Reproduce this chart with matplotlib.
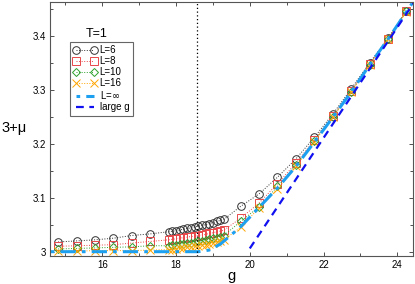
import numpy as np
import matplotlib
matplotlib.use("Agg")
import matplotlib.pyplot as plt

plt.rcParams['font.family'] = ['Liberation Sans', 'DejaVu Sans']

# g grid: sparse below, dense around the transition, sparse above
g_low = [14.8, 15.3, 15.8, 16.3, 16.8, 17.3]
g_mid = [17.8, 17.9, 18.0, 18.1, 18.2, 18.3, 18.4, 18.5, 18.6, 18.7, 18.8, 18.9, 19.0, 19.1, 19.2, 19.3]
g_high = [19.75, 20.25, 20.75, 21.25, 21.75, 22.25, 22.75, 23.25, 23.75, 24.25]
g_all = g_low + g_mid + g_high

mu_L6 = [3.018, 3.020, 3.022, 3.025, 3.030, 3.033,
         3.037, 3.038, 3.039, 3.040, 3.042, 3.043, 3.044, 3.046, 3.047, 3.049, 3.050, 3.052, 3.054, 3.056, 3.058, 3.060,
         3.084, 3.107, 3.138, 3.172, 3.212, 3.255, 3.302, 3.350, 3.396, 3.447]
mu_L8 = [3.010, 3.011, 3.012, 3.013, 3.016, 3.019,
         3.022, 3.023, 3.024, 3.025, 3.026, 3.027, 3.028, 3.029, 3.030, 3.031, 3.032, 3.034, 3.035, 3.037, 3.038, 3.040,
         3.062, 3.090, 3.126, 3.164, 3.207, 3.251, 3.298, 3.348, 3.395, 3.446]
mu_L10 = [3.005, 3.006, 3.007, 3.008, 3.009, 3.011,
          3.011, 3.012, 3.013, 3.014, 3.015, 3.016, 3.017, 3.018, 3.019, 3.020, 3.022, 3.023, 3.025, 3.026, 3.028, 3.030,
          3.056, 3.083, 3.121, 3.160, 3.205, 3.250, 3.297, 3.347, 3.394, 3.446]
mu_L16 = [3.001, 3.001, 3.002, 3.002, 3.002, 3.003,
          3.004, 3.004, 3.005, 3.006, 3.007, 3.008, 3.009, 3.010, 3.011, 3.012, 3.013, 3.015, 3.016, 3.018, 3.020, 3.022,
          3.045, 3.081, 3.116, 3.158, 3.204, 3.249, 3.296, 3.346, 3.394, 3.445]

g_inf = [14.6, 18.6, 18.9, 19.2, 19.75, 20.25, 20.75, 21.25, 21.75, 22.25, 22.75, 23.25, 23.75, 24.25, 24.4]
mu_inf = [3.0, 3.0, 3.003, 3.014, 3.046, 3.082, 3.118, 3.158, 3.203, 3.249, 3.296, 3.346, 3.394, 3.445, 3.46]

g_large = [20.0, 24.5]
mu_large = [3.006, 3.467]

g_crit = 18.56

fig = plt.figure(figsize=(4.15, 2.84), dpi=100)
ax = fig.add_axes([0.1205, 0.0986, 0.874, 0.8944])

series = [
    (mu_L6, 'o', '#333333', 'L=6'),
    (mu_L8, 's', '#e8484a', 'L=8'),
    (mu_L10, 'D', '#2ca02c', 'L=10'),
    (mu_L16, 'x', '#ffa500', 'L=16'),
]
for vals, mk, col, lab in series:
    ms = 4.5 if mk == 'D' else 5.5
    ax.plot(g_all, vals, linestyle=':', linewidth=0.7, color=col, marker=mk,
            markersize=ms, markerfacecolor='none', markeredgecolor=col,
            markeredgewidth=0.7, label=lab)

ax.plot(g_inf, mu_inf, color='#1ea0f0', linewidth=2.2, dashes=[1.2, 2.0, 5.0, 2.0],
        label=r'L=$\infty$')
ax.plot(g_large, mu_large, color='#1010f0', linewidth=1.6, dashes=[3.5, 2.5], label='large g')

ax.axvline(g_crit, color='black', linestyle=(0, (1, 2)), linewidth=0.9)

ax.set_xlim(14.58, 24.42)
ax.set_ylim(2.992, 3.463)
ax.set_xticks([16, 18, 20, 22, 24])
ax.set_xticks(np.arange(15, 25, 1), minor=True)
ax.set_yticks([3.0, 3.1, 3.2, 3.3, 3.4])
ax.set_yticklabels(['3', '3.1', '3.2', '3.3', '3.4'])
ax.set_yticks(np.arange(3.0, 3.46, 0.05), minor=True)
ax.tick_params(which='both', direction='in', top=True, right=True, labelsize=7,
               colors='#333333', labelcolor='black')
ax.tick_params(which='major', length=3, width=0.6, pad=3)
ax.tick_params(which='minor', length=2, width=0.6)
for s in ax.spines.values():
    s.set_color('#555555')
    s.set_linewidth(0.8)

ax.text(0.501, -0.08, 'g', transform=ax.transAxes, ha='center', va='center', fontsize=10.5)
ax.text(-0.1, 0.504, '3+\u03bc', transform=ax.transAxes, ha='center', va='center', fontsize=10.5)
ax.text(0.129, 0.874, 'T=1', transform=ax.transAxes, ha='center', va='center', fontsize=9)

leg = ax.legend(loc='upper left', bbox_to_anchor=(0.055, 0.843), fontsize=7,
                numpoints=2, handlelength=2.4, handletextpad=0.3, labelspacing=0.1,
                borderpad=0.35, borderaxespad=0, fancybox=False, framealpha=1)
leg.get_frame().set_edgecolor('#666666')
leg.get_frame().set_linewidth(0.8)

fig.savefig('out.png', dpi=100)
